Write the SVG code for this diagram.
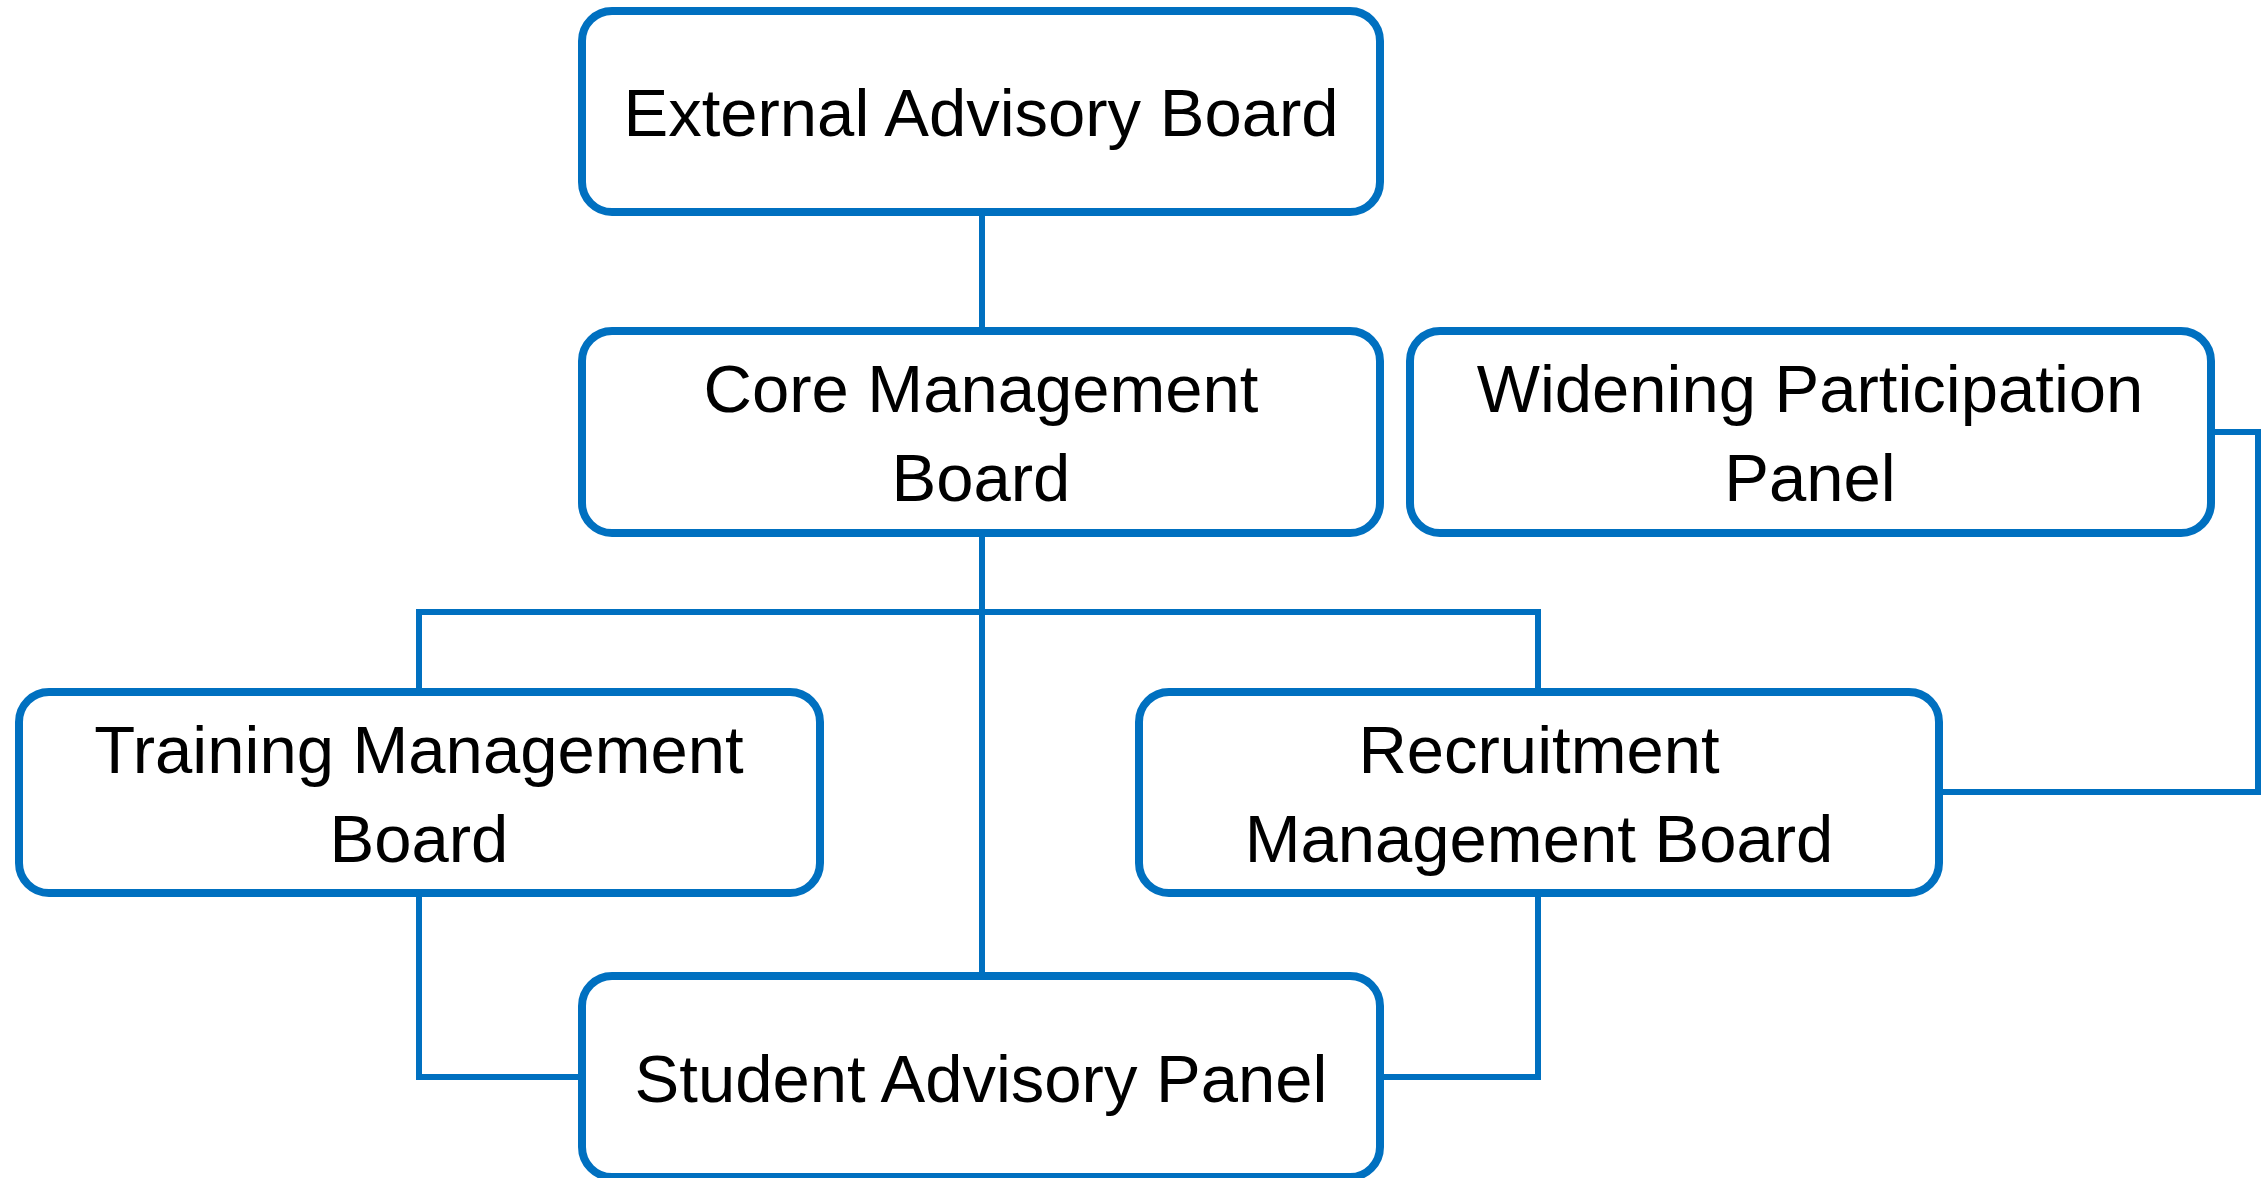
<svg xmlns="http://www.w3.org/2000/svg" width="2267" height="1178" viewBox="0 0 2267 1178">
<style>
.box{fill:#fff;stroke:#0070C0;stroke-width:8}
.t{font-family:"Liberation Sans",Arial,sans-serif;font-size:67px;fill:#000;text-anchor:middle}
.c{fill:none;stroke:#0070C0;stroke-width:6}
</style>
<rect width="2267" height="1178" fill="#fff"/>
<g id="connectors">
<path class="c" d="M982 212V331"/>
<path class="c" d="M982 533V976"/>
<path class="c" d="M419 692V612H1538V692"/>
<path class="c" d="M419 893V1077H582"/>
<path class="c" d="M1538 893V1077H1380"/>
<path class="c" d="M2211 432H2258V792H1939"/>
</g>
<g id="external">
<rect class="box" x="582" y="11" width="798" height="201" rx="30"/>
<text class="t" x="981" y="136">External Advisory Board</text>
</g>
<g id="core">
<rect class="box" x="582" y="331" width="798" height="202" rx="30"/>
<text class="t" x="981" y="412">Core Management</text>
<text class="t" x="981" y="501">Board</text>
</g>
<g id="widening">
<rect class="box" x="1410" y="331" width="801" height="202" rx="30"/>
<text class="t" x="1810" y="412">Widening Participation</text>
<text class="t" x="1810" y="501">Panel</text>
</g>
<g id="training">
<rect class="box" x="19" y="692" width="801" height="201" rx="30"/>
<text class="t" x="419" y="773">Training Management</text>
<text class="t" x="419" y="862">Board</text>
</g>
<g id="recruitment">
<rect class="box" x="1139" y="692" width="800" height="201" rx="30"/>
<text class="t" x="1539" y="773">Recruitment</text>
<text class="t" x="1539" y="862">Management Board</text>
</g>
<g id="student">
<rect class="box" x="582" y="976" width="798" height="201" rx="30"/>
<text class="t" x="981" y="1102">Student Advisory Panel</text>
</g>
</svg>
